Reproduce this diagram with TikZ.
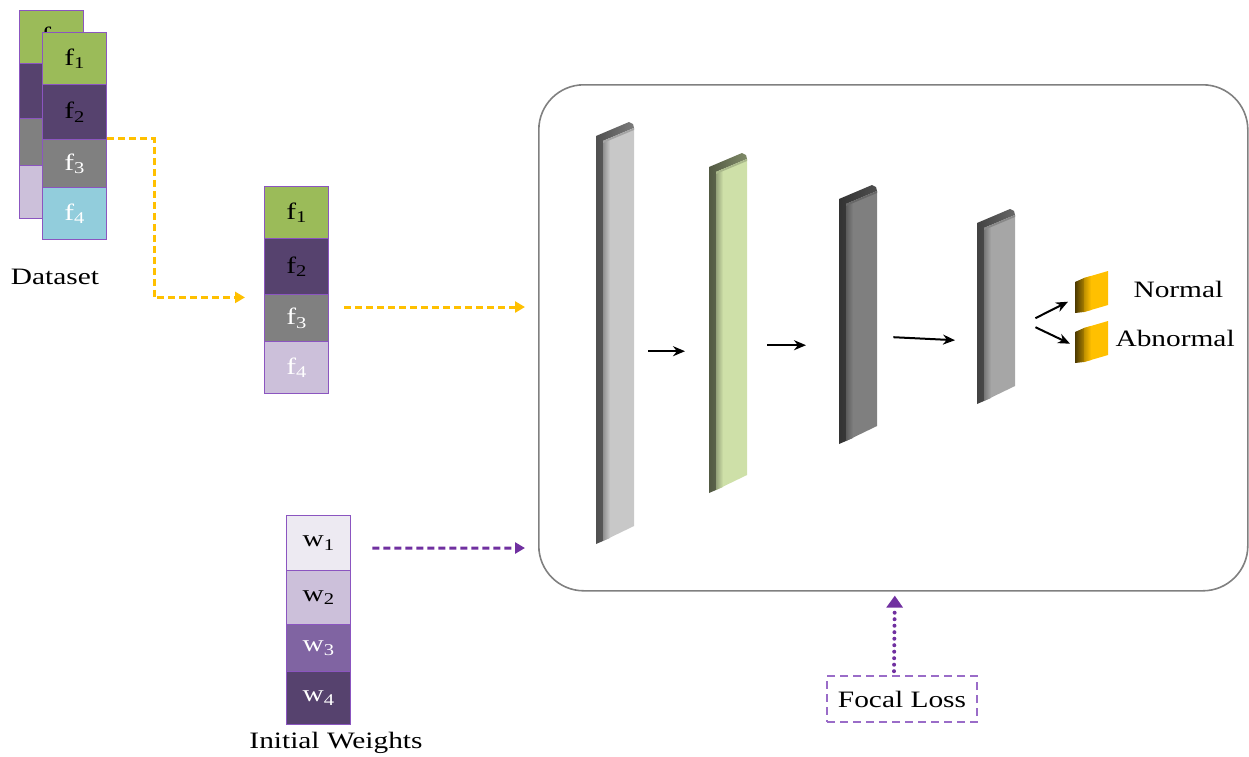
\documentclass[tikz,border=0pt]{standalone}
\usepackage{fontspec}
\setmainfont[FakeStretch=1.25]{Liberation Serif}
\usetikzlibrary{arrows.meta}
\definecolor{fgreen}{HTML}{9BBB59}
\definecolor{fpurple}{HTML}{56426E}
\definecolor{fgray}{HTML}{808080}
\definecolor{flav}{HTML}{CCC0DA}
\definecolor{fblue}{HTML}{92CDDC}
\definecolor{wlight}{HTML}{EDEAF2}
\definecolor{wmid}{HTML}{8064A2}
\definecolor{cellborder}{HTML}{8B55C0}
\definecolor{aorange}{HTML}{FFC000}
\definecolor{apurple}{HTML}{7030A0}
\definecolor{flpurple}{HTML}{9A6CC8}
\definecolor{boxgray}{HTML}{808080}
\definecolor{lgray}{HTML}{C8C8C8}
\definecolor{lgreen}{HTML}{CEE0A8}
\definecolor{ldgray}{HTML}{7F7F7F}
\definecolor{lmgray}{HTML}{A6A6A6}
\definecolor{cgold}{HTML}{FFC000}
\tikzset{
  lbl/.style={font=\fontsize{23.5}{27}\selectfont},
  cell/.style={lbl, draw=cellborder, line width=1.4pt, minimum width=64pt, inner sep=0pt, anchor=north west},
  oarrow/.style={draw=aorange, line width=3pt, dash pattern=on 7pt off 4pt, -{Triangle[length=10pt,width=11pt]}},
  parrow/.style={draw=apurple, line width=3pt, dash pattern=on 7pt off 4pt, -{Triangle[length=10pt,width=11pt]}},
  farrow/.style={draw=apurple, line width=4pt, line cap=round, dash pattern=on 0pt off 6.5pt, -{Triangle[length=12pt,width=16pt]}},
  blk/.style={draw=black, line width=2pt, -{Stealth[length=12pt,width=10pt]}},
  ghost/.style={inner sep=0pt, anchor=north west}
}
\newcommand\slab[5]{%
  \pgfmathsetmacro\slabh{#4-#3}%
  \node[ghost, minimum width=38pt, minimum height=\slabh pt] (#1) at (#2,#3) {};
  \shade[left color=#5!40!black, right color=#5!62!black] ({#2},{#3+14}) -- ({#2+33},{#3}) -- ({#2+37},{#3+2}) -- ({#2+38},{#3+6}) -- ({#2+7},{#3+19}) -- ({#2+7},{#4-2}) -- ({#2},{#4+1}) -- cycle;
  \fill[#5] ({#2+7},{#3+19}) -- ({#2+38},{#3+6}) -- ({#2+38},{#4-17}) -- ({#2+7},{#4-2}) -- cycle;
  \shade[left color=#5!72!black, right color=#5] ({#2+7},{#3+19}) -- ({#2+14},{#3+16}) -- ({#2+14},{#4-5}) -- ({#2+7},{#4-2}) -- cycle;
  \fill[#5!82!black] ({#2+7},{#3+19}) -- ({#2+38},{#3+6}) -- ({#2+38},{#3+8}) -- ({#2+7},{#3+21}) -- cycle;
}
\newcommand\outcube[4]{%
  \pgfmathsetmacro\cubeh{#4-#3}%
  \node[ghost, minimum width=33pt, minimum height=\cubeh pt] (#1) at (#2,#3) {};
  \shade[left color=cgold!30!black, right color=cgold!65!black] ({#2},{#3+11}) -- ({#2+9},{#3+7}) -- ({#2+9},{#4-1}) -- ({#2},{#4}) -- cycle;
  \fill[cgold] ({#2+9},{#3+7}) -- ({#2+33},{#3}) -- ({#2+33},{#4-8}) -- ({#2+9},{#4-1}) -- cycle;
  \shade[left color=cgold!75!black, right color=cgold] ({#2+9},{#3+7}) -- ({#2+16},{#3+5}) -- ({#2+16},{#4-3}) -- ({#2+9},{#4-1}) -- cycle;
}
\begin{document}
\begin{tikzpicture}[x=1pt,y=-1pt]
\useasboundingbox (0,0) rectangle (1249,756);
% back dataset stack
\node[cell, fill=fgreen, minimum height=53pt] (b1) at (19,10) {f\textsubscript{1}};
\node[cell, fill=fpurple, minimum height=55pt] (b2) at (19,63) {f\textsubscript{2}};
\node[cell, fill=fgray, minimum height=47pt, text=white] (b3) at (19,118) {f\textsubscript{3}};
\node[cell, fill=flav, minimum height=53pt, text=white] (b4) at (19,165) {f\textsubscript{4}};
% front dataset stack
\node[cell, fill=fgreen, minimum height=52pt] (a1) at (42,32) {f\textsubscript{1}};
\node[cell, fill=fpurple, minimum height=55pt] (a2) at (42,84) {f\textsubscript{2}};
\node[cell, fill=fgray, minimum height=48pt, text=white] (a3) at (42,139) {f\textsubscript{3}};
\node[cell, fill=fblue, minimum height=52pt, text=white] (a4) at (42,187) {f\textsubscript{4}};
\node[lbl] (dslbl) at (55,277) {Dataset};
% middle stack
\node[cell, fill=fgreen, minimum height=52pt] (m1) at (264,186) {f\textsubscript{1}};
\node[cell, fill=fpurple, minimum height=56pt] (m2) at (264,238) {f\textsubscript{2}};
\node[cell, fill=fgray, minimum height=47pt, text=white] (m3) at (264,294) {f\textsubscript{3}};
\node[cell, fill=flav, minimum height=52pt, text=white] (m4) at (264,341) {f\textsubscript{4}};
% weights
\node[cell, fill=wlight, minimum height=55pt] (w1) at (286,515) {w\textsubscript{1}};
\node[cell, fill=flav, minimum height=54pt] (w2) at (286,570) {w\textsubscript{2}};
\node[cell, fill=wmid, minimum height=47pt, text=white] (w3) at (286,624) {w\textsubscript{3}};
\node[cell, fill=fpurple, minimum height=53pt, text=white] (w4) at (286,671) {w\textsubscript{4}};
\node[lbl] (wlbl) at (336,743) {Initial Weights};
% model box
\node[draw=boxgray, line width=1.6pt, rounded corners=45pt, minimum width=709pt, minimum height=506pt, anchor=north west] (box) at (538,84) {};
\coordinate (in1) at (525,307);
\coordinate (in2) at (525,548);
% layers
\slab{L1}{596}{122}{543}{lgray}
\slab{L2}{709}{153}{492}{lgreen}
\slab{L3}{839}{185}{443}{ldgray}
\slab{L4}{977}{209}{403}{lmgray}
\outcube{O1}{1075}{271}{313}
\outcube{O2}{1075}{321}{363}
\node[lbl, anchor=west] (nlbl) at (1130,289) {Normal};
\node[lbl, anchor=west] (albl) at (1112,338) {Abnormal};
% focal loss
\node[lbl, draw=flpurple, line width=1.6pt, dash pattern=on 8pt off 5pt, minimum width=150pt, minimum height=46pt] (fl) at (902,699) {Focal Loss};
% connectors
\draw[oarrow] ([yshift=2pt]a2.south east) -| ([xshift=-110pt,yshift=-2pt]m2.south west) -- ([xshift=-19pt,yshift=-2pt]m2.south west);
\draw[oarrow] ([xshift=15pt,yshift=-13pt]m3.north east) -- (in1);
\draw[parrow] ([xshift=21pt,yshift=-5pt]w1.east) -- (in2);
\draw[farrow] ([xshift=-8pt,yshift=4pt]fl.north) -- ([xshift=1.5pt,yshift=-4pt]box.south);
\draw[blk] ([xshift=14pt,yshift=-18.5pt]L1.east) -- ([xshift=-24pt,yshift=-28.5pt]L2.west);
\draw[blk] ([xshift=20pt,yshift=-22.5pt]L2.east) -- ([xshift=-33pt,yshift=-31pt]L3.west);
\draw[blk] ([xshift=16pt,yshift=-23pt]L3.east) -- ([xshift=-22pt,yshift=-34pt]L4.west);
\draw[blk] ([xshift=20pt,yshift=-12pt]L4.east) -- ([xshift=-7pt,yshift=-9.5pt]O1.west);
\draw[blk] ([xshift=20pt,yshift=-21pt]L4.east) -- ([xshift=-5pt,yshift=-1.5pt]O2.west);
\end{tikzpicture}
\end{document}
